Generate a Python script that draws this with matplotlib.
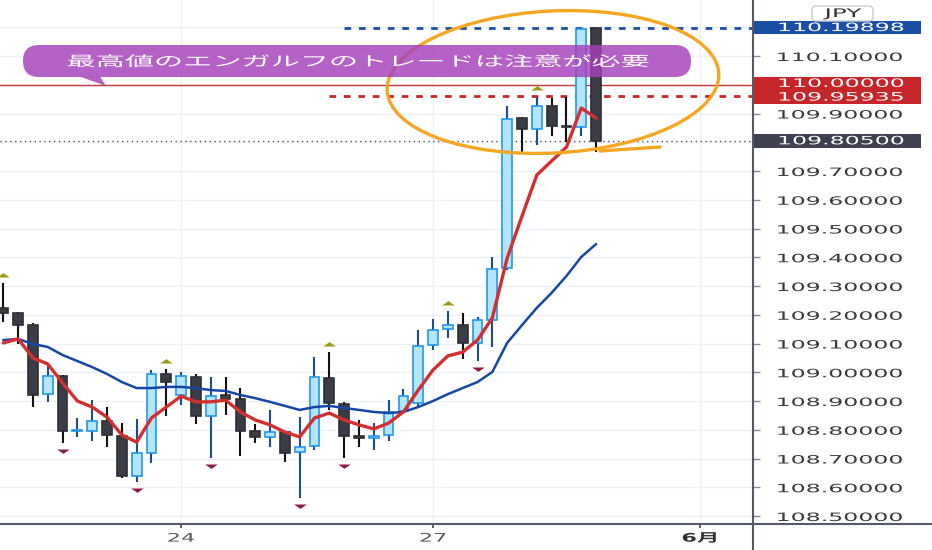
import numpy as np
import matplotlib
matplotlib.use("Agg")
import matplotlib.pyplot as plt
from matplotlib.patches import Rectangle, FancyBboxPatch, Polygon, Ellipse
from matplotlib.lines import Line2D
from matplotlib.path import Path
from matplotlib.transforms import Affine2D, blended_transform_factory
from matplotlib.patheffects import AbstractPathEffect

# ---------------- data (USD/JPY, 4H candles) ----------------
opens = [109.224, 109.205, 109.164, 108.924, 108.987, 108.796, 108.796, 108.830, 108.778, 108.639,
         108.719, 108.994, 108.921, 108.983, 108.848, 108.921, 108.907, 108.796, 108.775, 108.792,
         108.723, 108.743, 108.980, 108.890, 108.778, 108.771, 108.782, 108.865, 108.893, 109.095,
         109.150, 109.164, 109.102, 109.182, 109.363, 109.884, 109.846, 109.926, 109.854, 109.853,
         110.199]
highs = [109.310, 109.208, 109.171, 109.025, 108.990, 108.841, 108.903, 108.879, 108.824, 108.837,
         109.008, 109.011, 109.001, 108.994, 108.983, 108.983, 108.945, 108.820, 108.869, 108.796,
         108.844, 109.053, 109.070, 108.897, 108.834, 108.823, 108.903, 108.942, 109.147, 109.185,
         109.213, 109.206, 109.192, 109.401, 109.926, 109.888, 109.959, 109.954, 109.957, 110.199,
         110.199]
lows = [109.175, 109.098, 108.879, 108.897, 108.754, 108.775, 108.761, 108.740, 108.632, 108.618,
        108.684, 108.848, 108.886, 108.820, 108.702, 108.851, 108.709, 108.754, 108.740, 108.688,
        108.563, 108.730, 108.869, 108.702, 108.740, 108.730, 108.761, 108.862, 108.879, 109.077,
        109.119, 109.046, 109.039, 109.088, 109.356, 109.763, 109.790, 109.822, 109.801, 109.822,
        109.766]
closes = [109.206, 109.164, 108.921, 108.987, 108.796, 108.799, 108.830, 108.782, 108.639, 108.719,
          108.994, 108.966, 108.987, 108.848, 108.917, 108.907, 108.796, 108.775, 108.792, 108.719,
          108.740, 108.983, 108.893, 108.778, 108.771, 108.778, 108.862, 108.917, 109.091, 109.147,
          109.164, 109.102, 109.182, 109.359, 109.881, 109.846, 109.926, 109.857, 109.852, 110.195,
          109.805]
ma_fast = [109.102, 109.116, 109.050, 109.029, 108.963, 108.900, 108.879, 108.844, 108.782, 108.757,
           108.841, 108.879, 108.917, 108.897, 108.897, 108.903, 108.862, 108.834, 108.817, 108.792,
           108.775, 108.841, 108.858, 108.834, 108.817, 108.803, 108.823, 108.862, 108.938, 109.008,
           109.057, 109.070, 109.112, 109.189, 109.397, 109.543, 109.686, 109.735, 109.783, 109.919,
           109.884]
ma_slow = [109.112, 109.116, 109.098, 109.088, 109.060, 109.039, 109.018, 108.994, 108.966, 108.945,
           108.945, 108.949, 108.949, 108.945, 108.938, 108.935, 108.921, 108.910, 108.897, 108.883,
           108.869, 108.879, 108.883, 108.876, 108.869, 108.862, 108.858, 108.862, 108.879, 108.900,
           108.924, 108.945, 108.966, 109.001, 109.102, 109.164, 109.224, 109.276, 109.335, 109.401,
           109.446]
fractal_up = [0, 11, 22, 30, 36]
fractal_down = [4, 9, 14, 20, 23, 32]
xtick_pos = [12, 29, 47]
xtick_labels = ["24", "27", "6月"]
level_high = 110.19898
level_high_start = 23
level_prev_high = 109.95935
level_prev_start = 22
level_round = 110.00000
last_price = 109.80500
callout_text = "最高値のエンガルフのトレードは注意が必要"
currency = "JPY"


# ---------------- helpers ----------------
class StretchX(AbstractPathEffect):
    """Draw text glyphs stretched horizontally (the reference screenshot is wide)."""
    def __init__(self, sx, anchor="left"):
        super().__init__()
        self.sx = sx
        self.anchor = anchor

    def draw_path(self, renderer, gc, tpath, affine, rgbFace=None):
        cx = 0.0
        if self.anchor == "center":
            ext = tpath.get_extents()
            cx = (ext.x0 + ext.x1) / 2.0
        t = Affine2D().translate(-cx, 0).scale(self.sx, 1.0).translate(cx, 0) + affine
        renderer.draw_path(gc, tpath, t, rgbFace)


W, H = 932, 550
PX_PER_PRICE = 287.5
fig = plt.figure(figsize=(W / 100, H / 100), dpi=100)
fig.patch.set_facecolor("white")
ax = fig.add_axes([0, 26 / H, 752 / W, 524 / H])
px = Affine2D().scale(1 / W, -1 / H).translate(0, 1) + fig.transFigure

XMAX = 50.52
ax.set_xlim(-0.22, XMAX)
ax.set_ylim(108.4722, 110.2948)
for s in ax.spines.values():
    s.set_visible(False)

LABEL_FS = 8.3
LABEL_SX = 2.05
yt = np.round(np.arange(108.5, 110.25, 0.1), 1)
tag_prices = [level_high, level_round, level_prev_high, last_price]
ylabels = []
for v in yt:
    hidden = any(abs(v - p) * PX_PER_PRICE < 13 for p in tag_prices)
    ylabels.append("" if hidden else f"{v:.5f}")
ax.set_yticks(yt)
ax.set_yticklabels(ylabels)
ax.yaxis.tick_right()
ax.tick_params(axis="y", direction="out", length=6, width=1, color="#8a8e96",
               pad=11, labelsize=LABEL_FS, labelcolor="#3a3a3a")
ax.set_xticks(xtick_pos)
ax.set_xticklabels(xtick_labels)
ax.tick_params(axis="x", direction="out", length=3, width=1.2, color="#444",
               pad=2.5, labelsize=8.5, labelcolor="#5a5a5a")
for lbl in ax.get_yticklabels():
    lbl.set_path_effects([StretchX(LABEL_SX, "left")])
xl = ax.get_xticklabels()
for lbl in xl:
    lbl.set_family(["DejaVu Sans", "Noto Sans CJK JP"])
    lbl.set_path_effects([StretchX(1.9, "center")])
xl[2].set_fontweight("bold")
xl[2].set_color("#333333")

ax.set_axisbelow(True)
ax.grid(True, color="#edf0f5", lw=1)

# ---------------- level lines ----------------
ax.axhline(level_round, color="#c93a3a", lw=1, zorder=2)
ax.hlines(level_prev_high, level_prev_start, XMAX, color="#c62828", lw=2,
          linestyles=[(0, (2.4, 2.8))], zorder=2)
ax.hlines(level_high, level_high_start, XMAX, color="#1d4fa3", lw=2,
          linestyles=[(0, (2.4, 2.8))], zorder=2)
ax.hlines(last_price, -0.22, XMAX, color="#555555", lw=1,
          linestyles=[(0, (1, 2.5))], zorder=2)

# ---------------- candles ----------------
bw = 0.66
for i, (o, h, l, c) in enumerate(zip(opens, highs, lows, closes)):
    bull = c >= o
    wick = "#1c4a9c" if bull else "#111111"
    fc = "#b3e5fc" if bull else "#3a3d46"
    ec = "#2196f3" if bull else "#2c2f36"
    ax.vlines(i, l, h, color=wick, lw=1.5, zorder=3)
    bottom = min(o, c)
    height = max(abs(c - o), 0.004)
    ax.add_patch(Rectangle((i - bw / 2, bottom), bw, height, fc=fc, ec=ec, lw=1.2, zorder=4))

x = np.arange(len(closes))
ax.plot(x, ma_slow, color="#1747a6", lw=1.8, zorder=5, solid_capstyle="round")
ax.plot(x, ma_fast, color="#d32f2f", lw=2.4, zorder=6, solid_capstyle="round")

tri_up = Path([(-1, 0), (1, 0), (0, 0.7), (-1, 0)])
tri_dn = Path([(-1, 0), (1, 0), (0, -0.7), (-1, 0)])
ax.plot(fractal_up, [highs[i] + 0.022 for i in fractal_up], ls="none", marker=tri_up,
        ms=9, color="#9b9a12", mew=0, zorder=6)
ax.plot(fractal_down, [lows[i] - 0.020 for i in fractal_down], ls="none", marker=tri_dn,
        ms=9, color="#8e1a4e", mew=0, zorder=6)

# ---------------- price tags on the axis ----------------
bt = blended_transform_factory(px, ax.transData)
hh = 6.8 / PX_PER_PRICE


def price_tag(price, color, shift_px=0.0):
    yc = price - shift_px / PX_PER_PRICE
    ax.add_patch(Rectangle((752, yc - hh), 169, 2 * hh, transform=bt, fc=color,
                           ec="none", zorder=7, clip_on=False))
    t = ax.text(777, yc, f"{price:.5f}", transform=bt, ha="left", va="center",
                color="white", fontsize=LABEL_FS, zorder=8, clip_on=False)
    t.set_path_effects([StretchX(LABEL_SX, "left")])


price_tag(level_high, "#1a4fa6")
price_tag(level_round, "#c6262a", shift_px=-1.4)
price_tag(level_prev_high, "#c6262a", shift_px=0.6)
price_tag(last_price, "#3d4150")

# currency badge
fig.add_artist(FancyBboxPatch((812, 6), 61, 15, boxstyle="round,pad=0,rounding_size=4",
                              transform=px, fc="white", ec="#c8ccd3", lw=1, zorder=8))
tj = fig.text(842.5, 13.5, currency, transform=px, ha="center", va="center",
              fontsize=8.5, color="#333333", zorder=9)
tj.set_path_effects([StretchX(2.1, "center")])

# axis lines
fig.add_artist(Line2D([0, W], [524, 524], transform=px, color="#555a64", lw=1.5, zorder=3))
fig.add_artist(Line2D([752.5, 752.5], [0, H], transform=px, color="#555a64", lw=1.5, zorder=3))

# ---------------- hand-drawn highlight ----------------
fig.add_artist(Ellipse((553, 82), 332, 142, angle=-3, transform=px, fill=False,
                       ec="#f5a623", lw=2.4, zorder=9))
fig.add_artist(Line2D([600, 660], [151, 147], transform=px, color="#f5a623", lw=2.4,
                      zorder=9, solid_capstyle="round"))

# ---------------- callout ----------------
fig.add_artist(FancyBboxPatch((23, 45), 668, 32, boxstyle="round,pad=0,rounding_size=16",
                              transform=px, fc="#a540bb", ec="none", alpha=0.82, zorder=10))
fig.add_artist(Polygon([(80, 76.6), (106, 86), (100, 76.6)], closed=True, transform=px,
                       fc="#a540bb", ec="none", alpha=0.82, zorder=10))
tc = fig.text(358, 62, callout_text, transform=px, ha="center", va="center", fontsize=10,
              color="white", family=["Noto Sans CJK JP", "DejaVu Sans"], zorder=11)
tc.set_path_effects([StretchX(2.1, "center")])

fig.savefig("out.png", dpi=100, facecolor="white")
